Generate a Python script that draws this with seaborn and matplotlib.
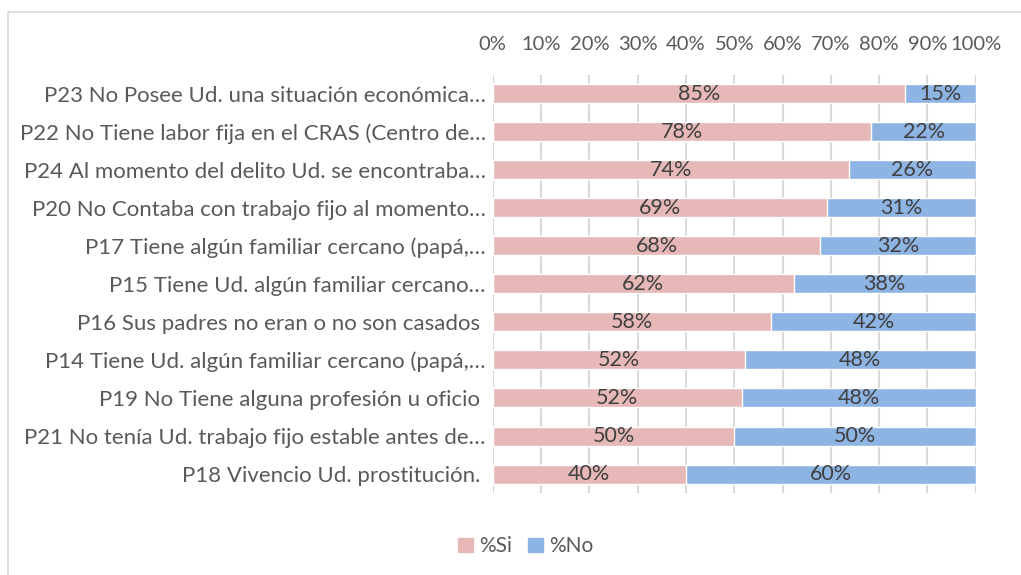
import pandas as pd
import seaborn as sns
import matplotlib.pyplot as plt
from matplotlib.lines import Line2D
from matplotlib.patches import Patch

preguntas = [
    'P23 No Posee Ud. una situación económica…',
    'P22 No Tiene labor fija en el CRAS (Centro de…',
    'P24 Al momento del delito Ud. se encontraba…',
    'P20 No Contaba con trabajo fijo al momento…',
    'P17 Tiene algún familiar cercano (papá,…',
    'P15 Tiene Ud. algún familiar cercano…',
    'P16 Sus padres no eran o no son casados ',
    'P14 Tiene Ud. algún familiar cercano (papá,…',
    'P19 No Tiene alguna profesión u oficio ',
    'P21 No tenía Ud. trabajo fijo estable antes de…',
    'P18 Vivencio Ud. prostitución. ',
]
pct_si = [85.3, 78.4, 73.8, 69.2, 67.8, 62.3, 57.7, 52.2, 51.6, 50.0, 40.0]
pct_no = [100 - v for v in pct_si]

col_si = '#E6B8B7'
col_no = '#8DB4E2'
gris = '#595959'

df = pd.DataFrame({'pregunta': preguntas, 'si': pct_si, 'no': pct_no})
df['total'] = df['si'] + df['no']

sns.set_theme(style='white')
plt.rcParams['font.family'] = ['Lato', 'DejaVu Sans']

fig = plt.figure(figsize=(10.21, 5.75), dpi=100)
ax = fig.add_axes([0.4826, 0.1426, 0.4731, 0.7270])

# barra completa azul (%No) y encima la parte rosa (%Si)
sns.barplot(data=df, x='total', y='pregunta', orient='h', color=col_no,
            saturation=1, width=0.5, ax=ax, zorder=2)
sns.barplot(data=df, x='si', y='pregunta', orient='h', color=col_si,
            saturation=1, width=0.5, ax=ax, zorder=3)

for i, row in df.iterrows():
    ax.text(row['si'] / 2, i, f"{round(row['si'])}%", ha='center', va='center',
            fontsize=15.5, color='#404040', zorder=4)
    ax.text(row['si'] + row['no'] / 2, i, f"{round(row['no'])}%", ha='center',
            va='center', fontsize=15.5, color='#404040', zorder=4)

ax.set_xlim(0, 100)
ax.set_ylim(len(df) - 0.5, -0.5)
ax.set_xticks(range(0, 101, 10))
ax.set_xticklabels([f'{t}%' for t in range(0, 101, 10)])
ax.xaxis.tick_top()
ax.tick_params(axis='x', length=0, pad=16, labelsize=14.5, labelcolor=gris)
ax.tick_params(axis='y', length=0, pad=5, labelsize=16, labelcolor=gris)
ax.set_xlabel('')
ax.set_ylabel('')
ax.grid(axis='x', color='#D9D9D9', linewidth=1.5, zorder=0)
ax.set_axisbelow(True)
for s in ax.spines.values():
    s.set_visible(False)

handles = [Patch(color=col_si, label='%Si'), Patch(color=col_no, label='%No')]
fig.legend(handles=handles, loc='center', bbox_to_anchor=(0.515, 0.05), ncol=2,
           frameon=False, fontsize=15, labelcolor=gris, handlelength=0.7,
           handleheight=0.7, handletextpad=0.3, columnspacing=0.8)

# marco del grafico
fig.add_artist(Line2D([8 / 1021, 1], [1 - 12 / 575, 1 - 12 / 575],
                      color='#D9D9D9', linewidth=1.2))
fig.add_artist(Line2D([8 / 1021, 8 / 1021], [0, 1 - 12 / 575],
                      color='#D9D9D9', linewidth=1.2))

fig.savefig('out.png', dpi=100)
